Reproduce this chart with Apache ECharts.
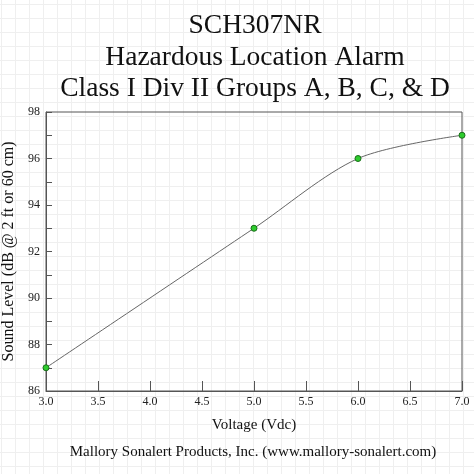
<!DOCTYPE html>
<html>
<head>
<meta charset="utf-8">
<script src="https://cdn.jsdelivr.net/npm/echarts@6/dist/echarts.min.js"></script>
<style>
  html, body { margin: 0; padding: 0; background: #fff; }
  #chart { width: 474px; height: 474px; }
</style>
</head>
<body>
<div id="chart"></div>
<script>
var voltage = [3.0, 5.0, 6.0, 7.0];
var soundLevel = [87, 93, 96, 97];
var titleLines = ['SCH307NR', 'Hazardous Location Alarm', 'Class I Div II Groups A, B, C, & D'];
var footer = 'Mallory Sonalert Products, Inc. (www.mallory-sonalert.com)';

var serif = "'Liberation Serif', 'Times New Roman', serif";

// faint graph-paper background
var tile = document.createElement('canvas');
tile.width = 14;
tile.height = 14;
var ctx = tile.getContext('2d');
ctx.fillStyle = '#fff';
ctx.fillRect(0, 0, 14, 14);
ctx.fillStyle = '#efefef';
ctx.fillRect(1, 0, 1, 14);
ctx.fillRect(0, 4, 14, 1);

var myChart = echarts.init(document.getElementById('chart'));

var points = [];
for (var i = 0; i < voltage.length; i++) {
    points.push([voltage[i], soundLevel[i]]);
}

var graphics = [];
for (var j = 0; j < titleLines.length; j++) {
    graphics.push({
        type: 'text',
        x: 255,
        y: 26 + j * 31.5,
        style: {
            text: titleLines[j],
            font: '27.5px ' + serif,
            fill: '#111',
            textAlign: 'center',
            textVerticalAlign: 'middle'
        }
    });
}
graphics.push({
    type: 'text',
    x: 253,
    y: 452,
    style: {
        text: footer,
        font: '15px ' + serif,
        fill: '#111',
        textAlign: 'center',
        textVerticalAlign: 'middle'
    }
});

myChart.setOption({
    animation: false,
    backgroundColor: {image: tile, repeat: 'repeat'},
    graphic: graphics,
    grid: {
        left: 46,
        right: 12,
        top: 112,
        bottom: 83,
        containLabel: false,
        outerBoundsMode: 'none',
        show: true,
        backgroundColor: 'transparent',
        borderColor: '#555',
        borderWidth: 1
    },
    xAxis: {
        type: 'value',
        min: 3,
        max: 7,
        interval: 0.5,
        name: 'Voltage (Vdc)',
        nameLocation: 'middle',
        nameGap: 27,
        nameTextStyle: {fontFamily: serif, fontSize: 15, color: '#111'},
        axisLine: {show: true, lineStyle: {color: '#555'}},
        axisTick: {show: true, inside: true, length: 10, lineStyle: {color: '#555'}},
        axisLabel: {
            fontFamily: serif, fontSize: 12, color: '#222', margin: 5,
            formatter: function (v) { return v.toFixed(1); }
        },
        splitLine: {show: false}
    },
    yAxis: {
        type: 'value',
        min: 86,
        max: 98,
        interval: 1,
        name: 'Sound Level (dB @ 2 ft or 60 cm)',
        nameLocation: 'middle',
        nameGap: 21,
        nameTextStyle: {fontFamily: serif, fontSize: 16, color: '#111'},
        axisLine: {show: true, lineStyle: {color: '#555'}},
        axisTick: {show: true, inside: true, length: 6, lineStyle: {color: '#555'}},
        axisLabel: {
            fontFamily: serif, fontSize: 12, color: '#222', margin: 6,
            formatter: function (v) { return v % 2 === 0 ? String(v) : ''; }
        },
        splitLine: {show: false}
    },
    series: [{
        type: 'line',
        data: points,
        smooth: 0.3,
        symbol: 'circle',
        symbolSize: 6,
        lineStyle: {color: '#666', width: 1},
        itemStyle: {color: '#2ecc2e', borderColor: '#1a6e1a', borderWidth: 1}
    }]
});
</script>
</body>
</html>
